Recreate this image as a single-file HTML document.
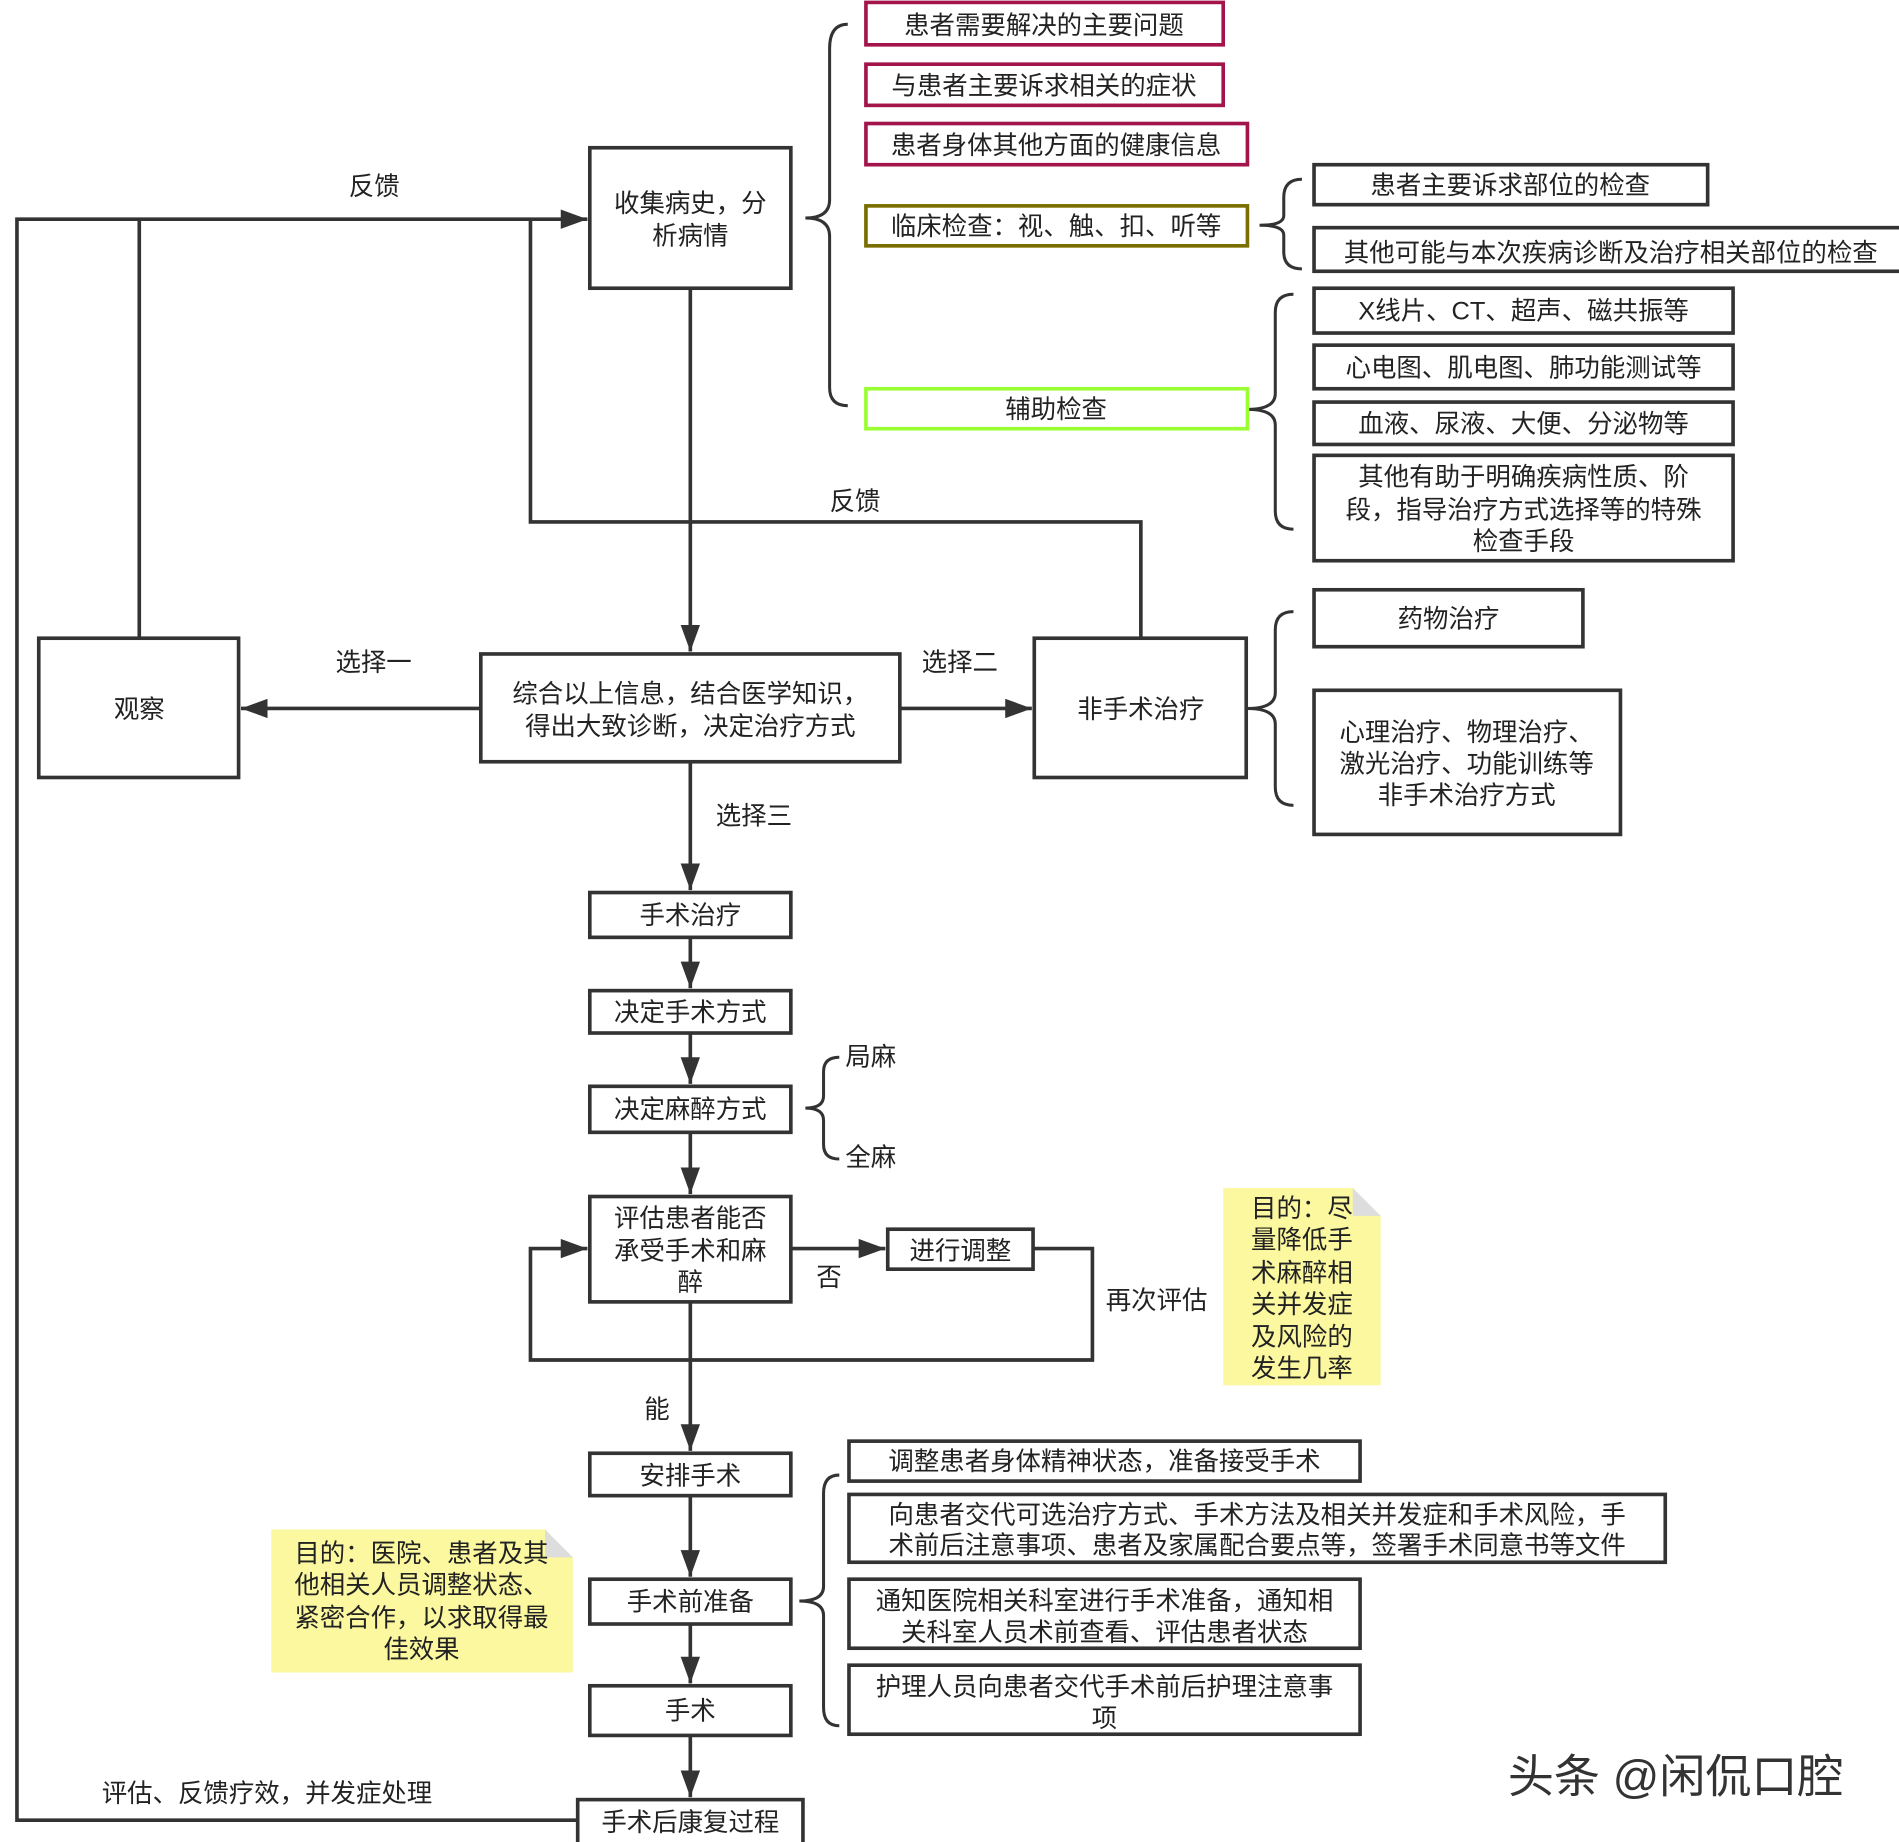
<!DOCTYPE html>
<html><head><meta charset="utf-8"><style>
html,body{margin:0;padding:0;background:#fff;}
svg{display:block;}
text{font-family:"Liberation Sans","Noto Sans CJK SC",sans-serif;font-size:21px;fill:#222;}
.b{fill:#fff;stroke:#333;stroke-width:3;}
.l{fill:none;stroke:#333;stroke-width:3;}
.br{fill:none;stroke:#333;stroke-width:2.5;}
</style></head><body>
<svg width="1899" height="1842" viewBox="0 0 1568 1521" preserveAspectRatio="none" xmlns="http://www.w3.org/2000/svg">
<defs><marker id="a" markerWidth="10" markerHeight="10" refX="9" refY="5" orient="auto" markerUnits="userSpaceOnUse"><path d="M0,0 L10,5 L0,10 z" fill="#333"/></marker>
<marker id="A" viewBox="0 0 10 10" markerWidth="22" markerHeight="16" refX="10" refY="5" orient="auto" markerUnits="userSpaceOnUse" preserveAspectRatio="none"><path d="M0,0 L10,5 L0,10 z" fill="#333"/></marker></defs>

<!-- feedback lines -->
<polyline class="l" points="477,1503 14,1503 14,181 485,181" marker-end="url(#A)"/>
<line class="l" x1="115" y1="527" x2="115" y2="181"/>
<polyline class="l" points="942,527 942,431 438,431 438,181"/>
<text x="288" y="161">反馈</text>
<text x="685" y="421">反馈</text>

<!-- main flow -->
<line class="l" x1="570" y1="238" x2="570" y2="538" marker-end="url(#A)"/>
<line class="l" x1="397" y1="585" x2="199" y2="585" marker-end="url(#A)"/>
<line class="l" x1="743" y1="585" x2="852" y2="585" marker-end="url(#A)"/>
<line class="l" x1="570" y1="629" x2="570" y2="735" marker-end="url(#A)"/>
<line class="l" x1="570" y1="774" x2="570" y2="816" marker-end="url(#A)"/>
<line class="l" x1="570" y1="853" x2="570" y2="895" marker-end="url(#A)"/>
<line class="l" x1="570" y1="935" x2="570" y2="986" marker-end="url(#A)"/>
<line class="l" x1="653" y1="1031" x2="731" y2="1031" marker-end="url(#A)"/>
<polyline class="l" points="853,1031 902,1031 902,1123 438,1123 438,1031 485,1031" marker-end="url(#A)"/>
<line class="l" x1="570" y1="1075" x2="570" y2="1198" marker-end="url(#A)"/>
<line class="l" x1="570" y1="1235" x2="570" y2="1302" marker-end="url(#A)"/>
<line class="l" x1="570" y1="1341" x2="570" y2="1390" marker-end="url(#A)"/>
<line class="l" x1="570" y1="1433" x2="570" y2="1484" marker-end="url(#A)"/>

<text x="277" y="554">选择一</text>
<text x="761" y="554">选择二</text>
<text x="591" y="681">选择三</text>
<text x="674" y="1062">否</text>
<text x="913" y="1081">再次评估</text>
<text x="532" y="1171">能</text>
<text x="84" y="1488">评估、反馈疗效，并发症处理</text>

<!-- braces -->
<path class="br" d="M700,20 Q685,20 685,40 L685,165 Q685,180 665,180 Q685,180 685,195 L685,320 Q685,335 700,335"/>
<path class="br" d="M1075,148 Q1060,148 1060,163 L1060,178 Q1060,186 1040,186 Q1060,186 1060,194 L1060,208 Q1060,222 1075,222"/>
<path class="br" d="M1068,243 Q1053,243 1053,258 L1053,325 Q1053,338 1030,338 Q1053,338 1053,351 L1053,422 Q1053,437 1068,437"/>
<path class="br" d="M1068,505 Q1053,505 1053,520 L1053,572 Q1053,585 1030,585 Q1053,585 1053,598 L1053,650 Q1053,665 1068,665"/>
<path class="br" d="M693,873 Q680,873 680,885 L680,905 Q680,915 665,915 Q680,915 680,925 L680,945 Q680,957 693,957"/>
<path class="br" d="M693,1218 Q680,1218 680,1233 L680,1310 Q680,1322 660,1322 Q680,1322 680,1334 L680,1410 Q680,1425 693,1425"/>
<text x="698" y="880">局麻</text>
<text x="698" y="963">全麻</text>

<!-- boxes -->
<rect class="b" x="487" y="122" width="166" height="116"/>
<text x="570" y="175" text-anchor="middle">收集病史，分</text><text x="570" y="202" text-anchor="middle">析病情</text>

<rect x="715" y="2" width="295" height="35" fill="#fff" stroke="#a3154a" stroke-width="3"/><text x="862" y="28" text-anchor="middle">患者需要解决的主要问题</text>
<rect x="715" y="53" width="295" height="34" fill="#fff" stroke="#a3154a" stroke-width="3"/><text x="862" y="78" text-anchor="middle">与患者主要诉求相关的症状</text>
<rect x="715" y="102" width="315" height="34" fill="#fff" stroke="#a3154a" stroke-width="3"/><text x="872" y="127" text-anchor="middle">患者身体其他方面的健康信息</text>
<rect x="715" y="170" width="315" height="33" fill="#fff" stroke="#7a6e00" stroke-width="3"/><text x="872" y="194" text-anchor="middle">临床检查：视、触、扣、听等</text>
<rect x="715" y="321" width="315" height="33" fill="#fff" stroke="#99ff33" stroke-width="3"/><text x="872" y="345" text-anchor="middle">辅助检查</text>

<rect class="b" x="1085" y="136" width="325" height="33"/><text x="1247" y="160" text-anchor="middle">患者主要诉求部位的检查</text>
<rect class="b" x="1085" y="188" width="490" height="36"/><text x="1330" y="216" text-anchor="middle">其他可能与本次疾病诊断及治疗相关部位的检查</text>
<rect class="b" x="1085" y="238" width="346" height="37"/><text x="1258" y="264" text-anchor="middle">X线片、CT、超声、磁共振等</text>
<rect class="b" x="1085" y="285" width="346" height="36"/><text x="1258" y="311" text-anchor="middle">心电图、肌电图、肺功能测试等</text>
<rect class="b" x="1085" y="332" width="346" height="35"/><text x="1258" y="357" text-anchor="middle">血液、尿液、大便、分泌物等</text>
<rect class="b" x="1085" y="376" width="346" height="87"/>
<text x="1258" y="401" text-anchor="middle">其他有助于明确疾病性质、阶</text><text x="1258" y="428" text-anchor="middle">段，指导治疗方式选择等的特殊</text><text x="1258" y="454" text-anchor="middle">检查手段</text>

<rect class="b" x="32" y="527" width="165" height="115"/><text x="115" y="593" text-anchor="middle">观察</text>
<rect class="b" x="397" y="540" width="346" height="89"/>
<text x="570" y="580" text-anchor="middle">综合以上信息，结合医学知识，</text><text x="570" y="607" text-anchor="middle">得出大致诊断，决定治疗方式</text>
<rect class="b" x="854" y="527" width="175" height="115"/><text x="942" y="593" text-anchor="middle">非手术治疗</text>
<rect class="b" x="1085" y="487" width="222" height="47"/><text x="1196" y="518" text-anchor="middle">药物治疗</text>
<rect class="b" x="1085" y="570" width="253" height="119"/>
<text x="1211" y="612" text-anchor="middle">心理治疗、物理治疗、</text><text x="1211" y="638" text-anchor="middle">激光治疗、功能训练等</text><text x="1211" y="664" text-anchor="middle">非手术治疗方式</text>

<rect class="b" x="487" y="737" width="166" height="37"/><text x="570" y="763" text-anchor="middle">手术治疗</text>
<rect class="b" x="487" y="818" width="166" height="35"/><text x="570" y="843" text-anchor="middle">决定手术方式</text>
<rect class="b" x="487" y="897" width="166" height="38"/><text x="570" y="923" text-anchor="middle">决定麻醉方式</text>
<rect class="b" x="487" y="988" width="166" height="87"/>
<text x="570" y="1013" text-anchor="middle">评估患者能否</text><text x="570" y="1040" text-anchor="middle">承受手术和麻</text><text x="570" y="1066" text-anchor="middle">醉</text>
<rect class="b" x="733" y="1015" width="120" height="33"/><text x="793" y="1040" text-anchor="middle">进行调整</text>

<path d="M1010,981 L1117,981 L1140,1004 L1140,1144 L1010,1144 z" fill="#fbf8a0"/>
<path d="M1117,981 L1117,1004 L1140,1004 z" fill="#ddd"/>
<text x="1033" y="1005">目的：尽</text><text x="1033" y="1031">量降低手</text><text x="1033" y="1058">术麻醉相</text><text x="1033" y="1084">关并发症</text><text x="1033" y="1111">及风险的</text><text x="1033" y="1137">发生几率</text>

<rect class="b" x="487" y="1200" width="166" height="35"/><text x="570" y="1226" text-anchor="middle">安排手术</text>
<rect class="b" x="487" y="1304" width="166" height="37"/><text x="570" y="1330" text-anchor="middle">手术前准备</text>
<rect class="b" x="487" y="1392" width="166" height="41"/><text x="570" y="1420" text-anchor="middle">手术</text>
<rect class="b" x="477" y="1486" width="186" height="40"/><text x="570" y="1512" text-anchor="middle">手术后康复过程</text>

<rect class="b" x="701" y="1190" width="422" height="33"/><text x="912" y="1214" text-anchor="middle">调整患者身体精神状态，准备接受手术</text>
<rect class="b" x="701" y="1234" width="674" height="56"/>
<text x="1038" y="1258" text-anchor="middle">向患者交代可选治疗方式、手术方法及相关并发症和手术风险，手</text><text x="1038" y="1283" text-anchor="middle">术前后注意事项、患者及家属配合要点等，签署手术同意书等文件</text>
<rect class="b" x="701" y="1304" width="422" height="57"/>
<text x="912" y="1329" text-anchor="middle">通知医院相关科室进行手术准备，通知相</text><text x="912" y="1355" text-anchor="middle">关科室人员术前查看、评估患者状态</text>
<rect class="b" x="701" y="1375" width="422" height="57"/>
<text x="912" y="1400" text-anchor="middle">护理人员向患者交代手术前后护理注意事</text><text x="912" y="1426" text-anchor="middle">项</text>

<path d="M224,1263 L450,1263 L473,1286 L473,1381 L224,1381 z" fill="#fbf8a0"/>
<path d="M450,1263 L450,1286 L473,1286 z" fill="#ddd"/>
<text x="348" y="1290" text-anchor="middle">目的：医院、患者及其</text><text x="348" y="1316" text-anchor="middle">他相关人员调整状态、</text><text x="348" y="1343" text-anchor="middle">紧密合作，以求取得最</text><text x="348" y="1369" text-anchor="middle">佳效果</text>

<text x="1245" y="1480" style="font-size:38px;fill:#333">头条 @闲侃口腔</text>
</svg>
</body></html>
